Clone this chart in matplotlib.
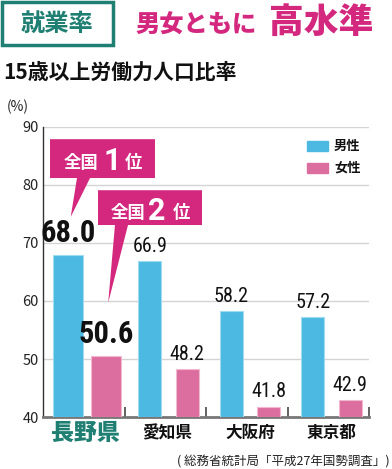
import matplotlib.pyplot as plt
import numpy as np
from matplotlib.patches import Polygon, Rectangle

# data
prefectures = ['長野県', '愛知県', '大阪府', '東京都']
male = [68.0, 66.9, 58.2, 57.2]
female = [50.6, 48.2, 41.8, 42.9]
series_names = ['男性', '女性']
yticks = [40, 50, 60, 70, 80, 90]

W, H = 392, 469
CJK = 'Noto Sans CJK JP'
NUM = ['Liberation Sans Narrow', 'Roboto Condensed', 'Roboto', 'DejaVu Sans']
BLUE = '#4cb9e2'
PINK = '#dc6e9f'
MAGENTA = '#d4287f'
TEAL = '#1e7f72'

plt.rcParams['font.family'] = [CJK, 'DejaVu Sans']


def px(x, y):
    return x / W, 1 - y / H


fig = plt.figure(figsize=(W / 100, H / 100), dpi=100)
ax = fig.add_axes([43 / W, (H - 417) / H, (369 - 43) / W, (417 - 127) / H])

x = np.arange(len(prefectures))
off_m, off_f = 0.31, 0.77
widths = [0.37, 0.28, 0.28, 0.28]
for i in range(len(prefectures)):
    ax.bar(x[i] + off_m, male[i] - 40, widths[i], bottom=40, color=BLUE,
           edgecolor='#9fdcf2', linewidth=0.8, zorder=3)
    ax.bar(x[i] + off_f, female[i] - 40, widths[i], bottom=40, color=PINK,
           edgecolor='#f2b8d0', linewidth=0.8, zorder=3)
    if i == 0:
        kw = dict(fontsize=22, fontweight='bold')
        gap = 1.1
    else:
        kw = dict(fontsize=14.5)
        gap = 0.9
    ax.text(x[i] + off_m, male[i] + gap, f'{male[i]:.1f}', ha='center',
            va='bottom', family=NUM, color='#111111', **kw)
    ax.text(x[i] + off_f, female[i] + gap, f'{female[i]:.1f}', ha='center',
            va='bottom', family=NUM, color='#111111', **kw)

ax.set_xlim(0, 4)
ax.set_ylim(40, 90)
ax.set_yticks(yticks)
ax.set_yticklabels([str(t) for t in yticks], fontsize=10.5, color='#222222')
ax.tick_params(axis='y', length=0, pad=3)
ax.set_xticks([1, 2, 3, 4])
ax.set_xticklabels([])
ax.tick_params(axis='x', direction='in', length=7, width=1.3, color='#555555')
for yv in yticks[1:]:
    ax.axhline(yv, color='#d4d4d4', linewidth=1, zorder=1)
for s in ['top', 'right']:
    ax.spines[s].set_visible(False)
ax.spines['left'].set_color('#333333')
ax.spines['left'].set_linewidth(1)
ax.spines['bottom'].set_color('#777777')
ax.spines['bottom'].set_linewidth(2)

# x labels
fig.text(*px(85, 433), prefectures[0], ha='center', va='center',
         fontsize=16.5, fontweight='heavy', color=TEAL)
for i, cx in enumerate([167, 250, 331]):
    fig.text(*px(cx, 433), prefectures[i + 1], ha='center', va='center',
             fontsize=12, fontweight='bold', color='#111111')

# callouts
box1 = [(0.086, 87.9), (1.374, 87.9), (1.374, 81.2), (0.577, 81.2),
        (0.34, 74.5), (0.417, 81.2), (0.086, 81.2)]
box2 = [(0.675, 79.1), (1.951, 79.1), (1.951, 73.1), (1.043, 73.1),
        (0.80, 59.7), (0.883, 73.1), (0.675, 73.1)]
for b in [box1, box2]:
    ax.add_patch(Polygon(b, closed=True, facecolor=MAGENTA, edgecolor='none',
                         zorder=5, clip_on=False))
for (xa, xb, yy) in [(81, 133, 163), (128, 181, 213)]:
    fig.text(*px(xa, yy), '全国', ha='center', va='center', fontsize=12.5,
             fontweight='bold', color='white', zorder=6)
    fig.text(*px(xb, yy), '位', ha='center', va='center', fontsize=12.5,
             fontweight='bold', color='white', zorder=6)
fig.text(*px(112, 161), '1', ha='center', va='center', fontsize=22,
         fontweight='bold', color='white', family=['Roboto', 'DejaVu Sans'])
fig.text(*px(157, 211), '2', ha='center', va='center', fontsize=22,
         fontweight='bold', color='white', family=['Roboto', 'DejaVu Sans'])

# legend
for j, (nm, c) in enumerate(zip(series_names, [BLUE, PINK])):
    yy = 146 + j * 22
    fig.patches.append(Rectangle(px(307, yy + 5), 21 / W, 10 / H, color=c,
                                 transform=fig.transFigure))
    fig.text(*px(334, yy), nm, ha='left', va='center', fontsize=9.5,
             fontweight='bold', color='#111111')

# headings
fig.patches.append(Rectangle(px(2, 45), 111 / W, 43 / H, facecolor='white',
                             edgecolor=TEAL, linewidth=2.5,
                             transform=fig.transFigure))
fig.text(*px(57, 24), '就業率', ha='center', va='center', fontsize=17.5,
         fontweight='bold', color=TEAL)
fig.text(*px(136, 25), '男女ともに', ha='left', va='center', fontsize=17.5,
         fontweight='heavy', color=MAGENTA)
fig.text(*px(269, 22), '高水準', ha='left', va='center', fontsize=25,
         fontweight='heavy', color=MAGENTA)
fig.text(*px(3, 72), '15歳以上労働力人口比率', ha='left', va='center',
         fontsize=15, fontweight='bold', color='#111111')
fig.text(*px(7, 107), '(%)', ha='left', va='center', fontsize=10,
         color='#222222')
fig.text(*px(390, 462), '( 総務省統計局「平成27年国勢調査」)', ha='right',
         va='center', fontsize=9, color='#222222')

fig.savefig('out.png', dpi=100)
